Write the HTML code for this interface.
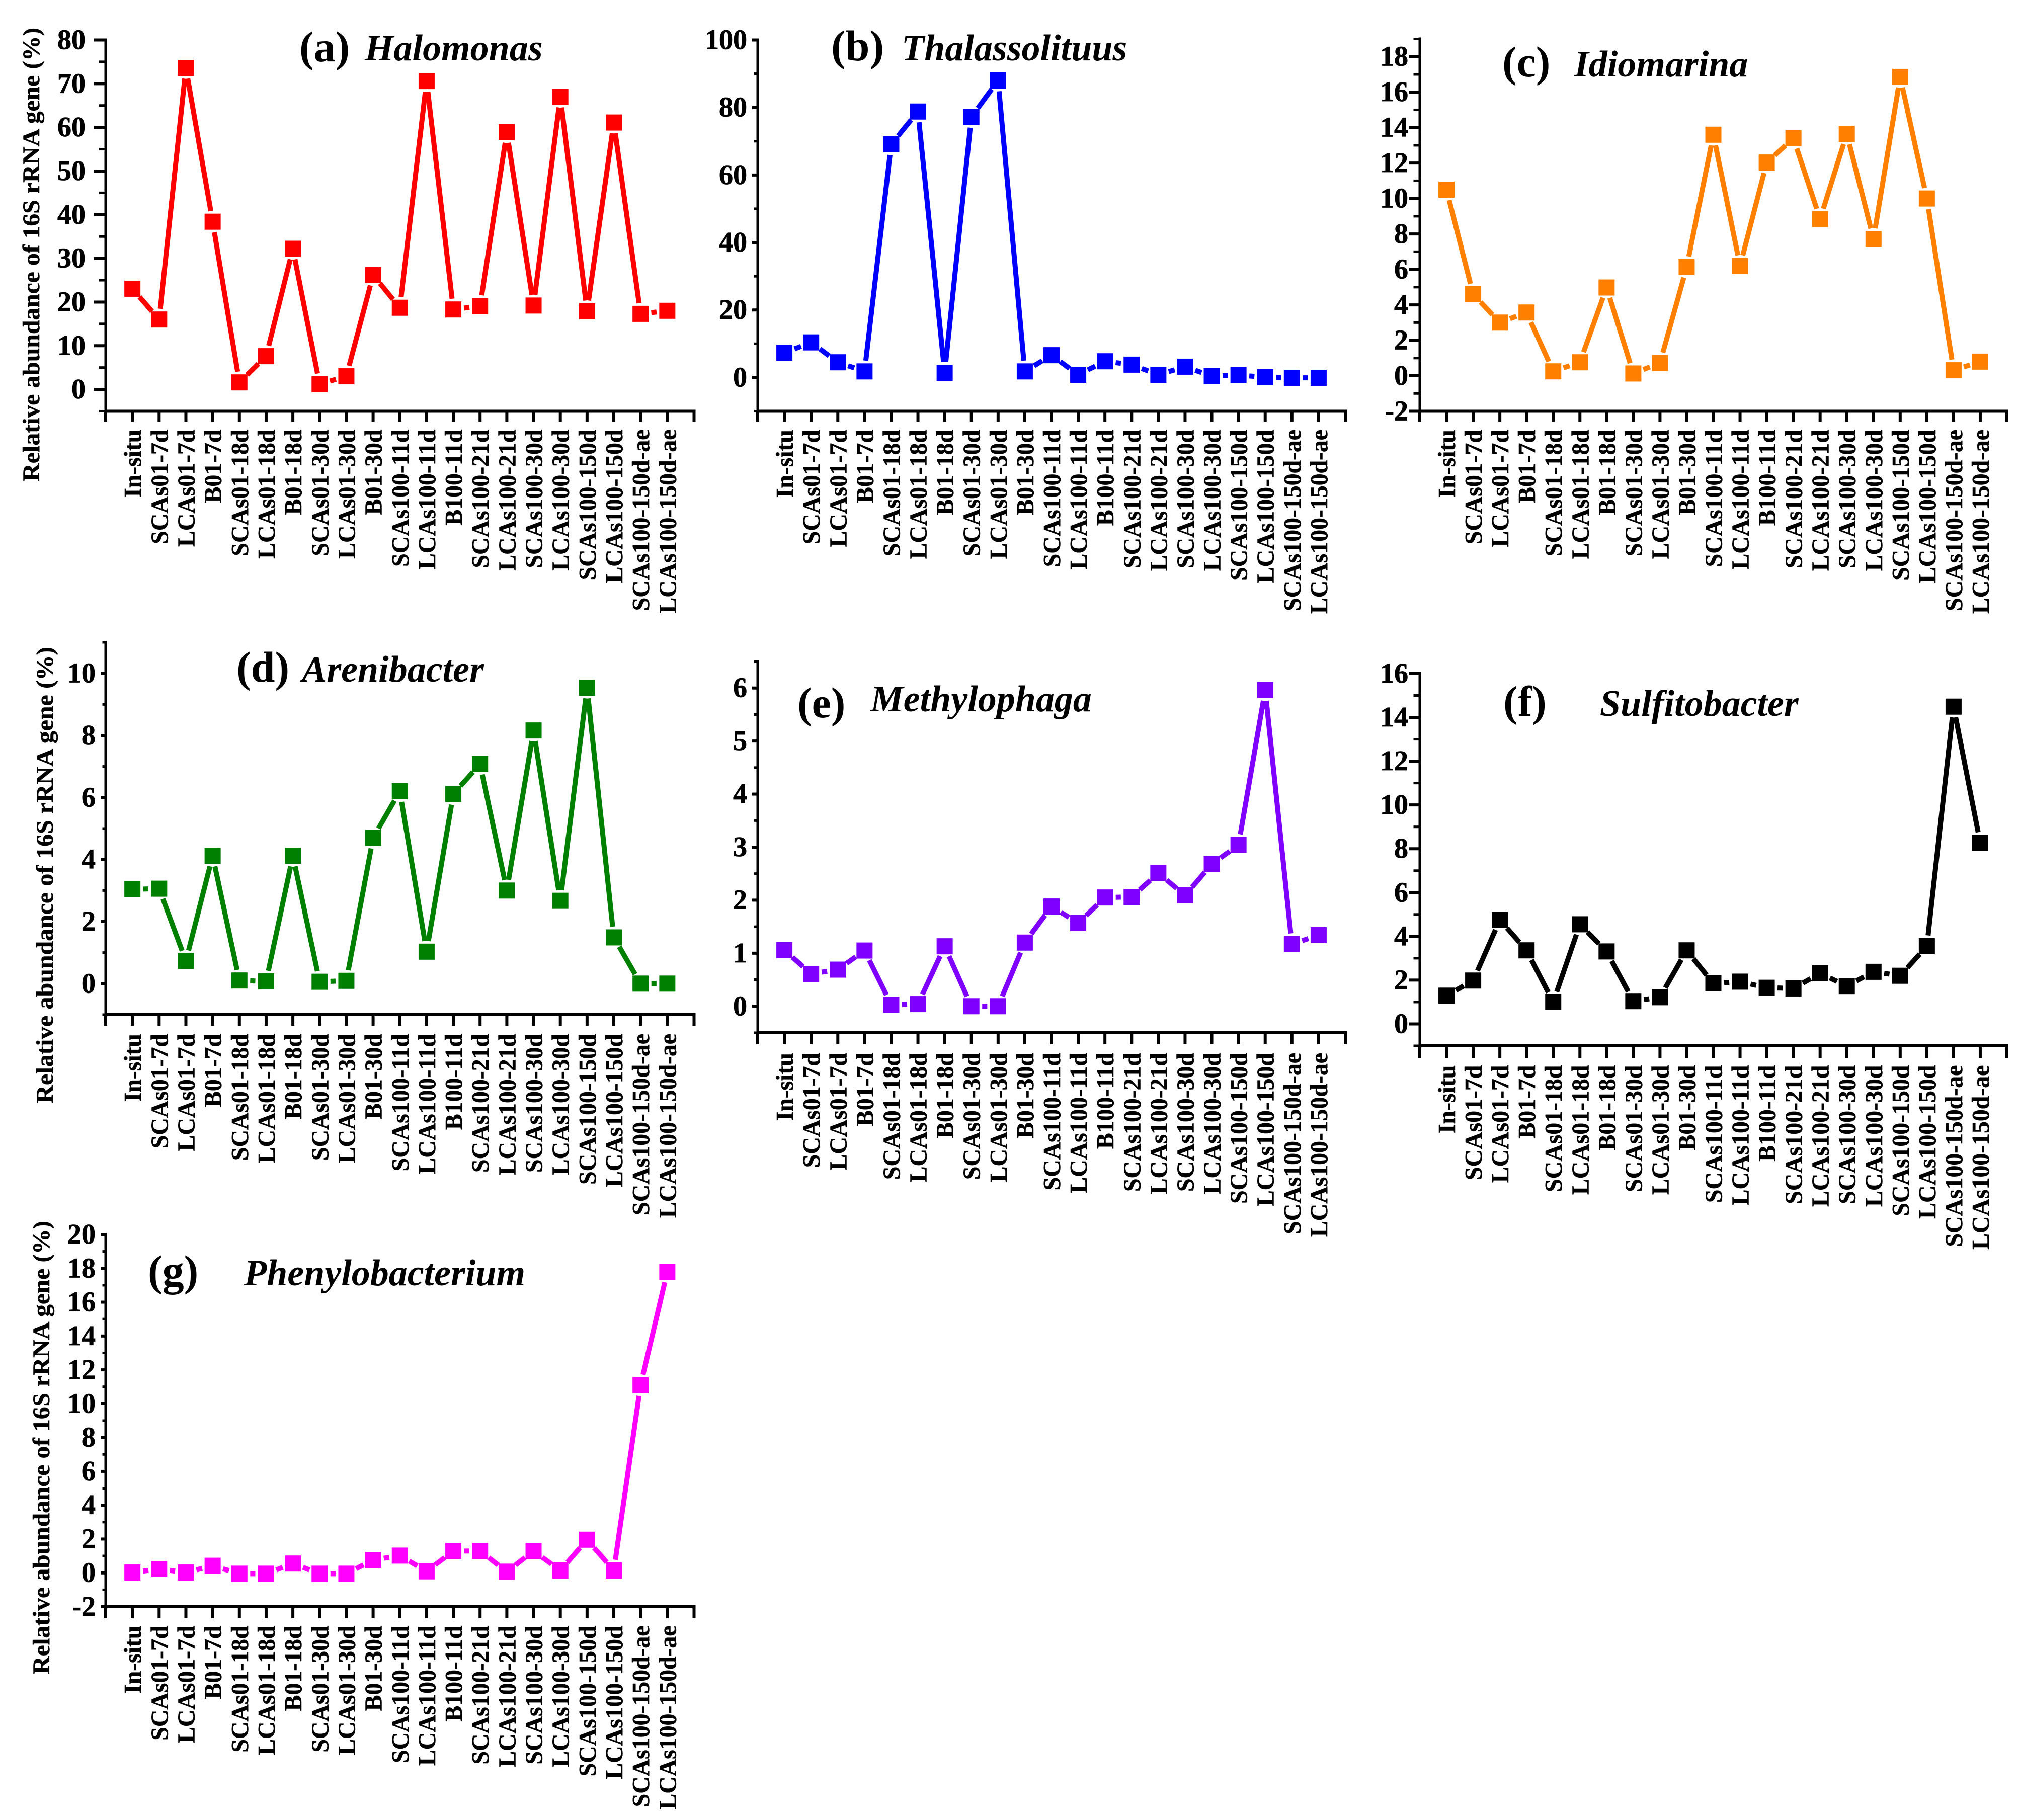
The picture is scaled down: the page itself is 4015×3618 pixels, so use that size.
<!DOCTYPE html>
<html lang="en">
<head>
<meta charset="utf-8">
<title>Relative abundance of bacterial genera</title>
<style>
html,body{margin:0;padding:0;background:#fff;}
svg{display:block;font-family:"Liberation Serif",serif;}
text{fill:#000;font-weight:bold;}
</style>
</head>
<body>
<svg id="figure" xmlns="http://www.w3.org/2000/svg" width="4015" height="3618" viewBox="0 0 4015 3618"></svg>
<script>
const categories = ["In-situ","SCAs01-7d","LCAs01-7d","B01-7d","SCAs01-18d","LCAs01-18d","B01-18d","SCAs01-30d","LCAs01-30d","B01-30d","SCAs100-11d","LCAs100-11d","B100-11d","SCAs100-21d","LCAs100-21d","SCAs100-30d","LCAs100-30d","SCAs100-150d","LCAs100-150d","SCAs100-150d-ae","LCAs100-150d-ae"];

const halomonasValues = [23.05,16,73.6,38.4,1.6,7.6,32.2,1.2,3,26.2,18.7,70.6,18.3,19.1,58.9,19.2,67,17.9,61.1,17.3,18];
const thalassolituusValues = [7.3,10.4,4.5,1.8,69.1,78.8,1.4,77.2,88,1.8,6.6,0.8,4.8,3.8,0.8,3.2,0.4,0.7,0.1,-0.1,-0.1];
const idiomarinaValues = [10.5,4.6,3.0,3.57,0.25,0.76,4.98,0.13,0.72,6.13,13.6,6.2,12.03,13.4,8.84,13.65,7.72,16.86,10.0,0.31,0.8];
const arenibacterValues = [3.04,3.06,0.73,4.12,0.1,0.07,4.12,0.06,0.09,4.7,6.2,1.03,6.11,7.08,3.0,8.16,2.67,9.54,1.49,0,0];
const methylophagaValues = [1.06,0.61,0.69,1.05,0.03,0.04,1.13,0,0,1.2,1.88,1.57,2.05,2.06,2.51,2.09,2.68,3.04,5.96,1.17,1.34];
const sulfitobacterValues = [1.29,1.98,4.75,3.36,1.0,4.55,3.31,1.04,1.22,3.36,1.85,1.93,1.65,1.62,2.31,1.73,2.38,2.2,3.55,14.49,8.27];
const phenylobacteriumValues = [0.02,0.23,0.02,0.42,-0.05,-0.05,0.55,-0.05,-0.05,0.76,1.02,0.09,1.29,1.29,0.07,1.29,0.14,1.96,0.14,11.09,17.8];

const halomonasTicks = [0,10,20,30,40,50,60,70,80];
const thalassolituusTicks = [0,20,40,60,80,100];
const idiomarinaTicks = [-2,0,2,4,6,8,10,12,14,16,18];
const arenibacterTicks = [0,2,4,6,8,10];
const methylophagaTicks = [0,1,2,3,4,5,6];
const sulfitobacterTicks = [0,2,4,6,8,10,12,14,16];
const phenylobacteriumTicks = [-2,0,2,4,6,8,10,12,14,16,18,20];

const yTitleText = "Relative abundance of 16S rRNA gene (%)";

const panels = [
  {id:"a",genus:"Halomonas",color:"#ff0000",values:halomonasValues,ticks:halomonasTicks,minorStep:5,yMin:-5,yMax:80,
   left:210,right:1379.5,bottom:817.5,top:79.5,majorLen:23.5,labelGap:40,tickDown:21,labelDrop:36,
   letter:{x:595,y:122},name:{x:725,y:120},title:{x:78,y1:957,y2:55}},
  {id:"b",genus:"Thalassolituus",color:"#0000ff",values:thalassolituusValues,ticks:thalassolituusTicks,minorStep:10,yMin:-10,yMax:100,
   left:1506,right:2674,bottom:817.5,top:79.5,majorLen:11,labelGap:21,tickDown:21,labelDrop:36.5,
   letter:{x:1652,y:120},name:{x:1792,y:120}},
  {id:"c",genus:"Idiomarina",color:"#ff8000",values:idiomarinaValues,ticks:idiomarinaTicks,minorStep:1,yMin:-2,yMax:19,
   left:2822,right:3989,bottom:817.5,top:77.5,majorLen:22,labelGap:23,tickDown:21,labelDrop:36.5,
   letter:{x:2986,y:152},name:{x:3129,y:152}},
  {id:"d",genus:"Arenibacter",color:"#008000",values:arenibacterValues,ticks:arenibacterTicks,minorStep:1,yMin:-1,yMax:11,
   left:210,right:1379.5,bottom:2017,top:1277,majorLen:10,labelGap:20,tickDown:22,labelDrop:38,
   letter:{x:470,y:1355},name:{x:600,y:1355},title:{x:105,y1:2193,y2:1286}},
  {id:"e",genus:"Methylophaga",color:"#8000ff",values:methylophagaValues,ticks:methylophagaTicks,minorStep:0.5,yMin:-0.5,yMax:6.5,
   left:1506,right:2674,bottom:2053,top:1315,majorLen:11,labelGap:21,tickDown:23,labelDrop:40,
   letter:{x:1585,y:1426},name:{x:1730,y:1414}},
  {id:"f",genus:"Sulfitobacter",color:"#000000",values:sulfitobacterValues,ticks:sulfitobacterTicks,minorStep:1,yMin:-1,yMax:16,
   left:2822,right:3989,bottom:2079,top:1339,majorLen:22,labelGap:23,tickDown:25,labelDrop:38.7,
   letter:{x:2988,y:1423},name:{x:3180,y:1423}},
  {id:"g",genus:"Phenylobacterium",color:"#ff00ff",values:phenylobacteriumValues,ticks:phenylobacteriumTicks,minorStep:1,yMin:-2,yMax:20,
   left:210,right:1379.5,bottom:3194,top:2454,majorLen:10,labelGap:20,tickDown:23,labelDrop:37.5,
   letter:{x:294,y:2555},name:{x:485,y:2555},title:{x:98,y1:3328,y2:2427}}
];

const NS = "http://www.w3.org/2000/svg";
const figure = document.getElementById("figure");

function make(tag, attrs, parent) {
  const el = document.createElementNS(NS, tag);
  for (const k in attrs) el.setAttribute(k, attrs[k]);
  parent.appendChild(el);
  return el;
}

function xScale(p, position) {
  return p.left + (position / (categories.length + 1)) * (p.right - p.left);
}

function yScale(p, value) {
  return p.bottom - ((value - p.yMin) / (p.yMax - p.yMin)) * (p.bottom - p.top);
}

function drawAxes(p, g) {
  const axisY = make("line", {x1:p.left, x2:p.left, y1:p.top - 3, y2:p.bottom + p.tickDown, stroke:"#000", "stroke-width":5}, g);
  
  
  const axisX = make("line", {x1:p.left, x2:p.right + 3, y1:p.bottom, y2:p.bottom, stroke:"#000", "stroke-width":6}, g);
  
  

  const count = Math.round((p.yMax - p.yMin) / p.minorStep);
  for (let i = 0; i <= count; i++) {
    const v = p.yMin + i * p.minorStep;
    const isMajor = p.ticks.indexOf(v) >= 0;
    const len = isMajor ? p.majorLen : p.majorLen / 2 + 1.5;
    const y = yScale(p, v);
    const tick = make("line", {x1:p.left - len, x2:p.left, y1:y, y2:y, stroke:"#000", "stroke-width":isMajor ? 6 : 5}, g);
    
    
  }

  p.ticks.forEach(function (v) {
    const t = make("text", {x:p.left - p.labelGap, y:yScale(p, v) + 18, "text-anchor":"end", "font-size":56, stroke:"#000", "stroke-width":0.8}, g);
    t.textContent = String(v);
    
    
  });

  for (let i = 0; i <= categories.length + 1; i++) {
    const x = xScale(p, i);
    const tick = make("line", {x1:x, x2:x, y1:p.bottom, y2:p.bottom + p.tickDown, stroke:"#000", "stroke-width":6}, g);
    
    
  }

  categories.forEach(function (name, i) {
    const x = xScale(p, i + 1) + 17;
    const y = p.bottom + p.labelDrop;
    const t = make("text", {transform:"translate(" + x + " " + y + ") rotate(-90) scale(0.975 1)", "text-anchor":"end", "font-size":49, stroke:"#000", "stroke-width":0.5}, g);
    t.textContent = name;
    
    
  });
}

function drawTitle(p, g) {
  const letter = make("text", {x:p.letter.x, y:p.letter.y, "font-size":86}, g);
  letter.textContent = "(" + p.id + ")";
  
  
  const name = make("text", {x:p.name.x, y:p.name.y, "font-size":74, "font-style":"italic"}, g);
  name.textContent = p.genus;
  
  
  if (p.title) {
    const t = make("text", {transform:"translate(" + p.title.x + " " + p.title.y1 + ") rotate(-90)", "font-size":48, textLength:p.title.y1 - p.title.y2, lengthAdjust:"spacingAndGlyphs", stroke:"#000", "stroke-width":0.5}, g);
    t.textContent = yTitleText;
    
    
  }
}

function drawSeries(p, g) {
  const gap = 21.5;
  const size = 32;
  const pts = p.values.map(function (v, i) {
    return {x:xScale(p, i + 1), y:yScale(p, v)};
  });
  for (let i = 0; i < pts.length - 1; i++) {
    const a = pts[i], b = pts[i + 1];
    const dx = b.x - a.x, dy = b.y - a.y;
    const len = Math.hypot(dx, dy);
    if (len <= 2 * gap) continue;
    const ux = dx / len, uy = dy / len;
    const seg = make("line", {x1:a.x + ux * gap, y1:a.y + uy * gap, x2:b.x - ux * gap, y2:b.y - uy * gap, stroke:p.color, "stroke-width":10}, g);
    
    
  }
  pts.forEach(function (pt) {
    const m = make("rect", {x:pt.x - size / 2, y:pt.y - size / 2, width:size, height:size, fill:p.color}, g);
    
    
  });
}

panels.forEach(function (p) {
  const g = make("g", {}, figure);
  
  
  drawAxes(p, g);
  drawSeries(p, g);
  drawTitle(p, g);
});
</script>
</body>
</html>
